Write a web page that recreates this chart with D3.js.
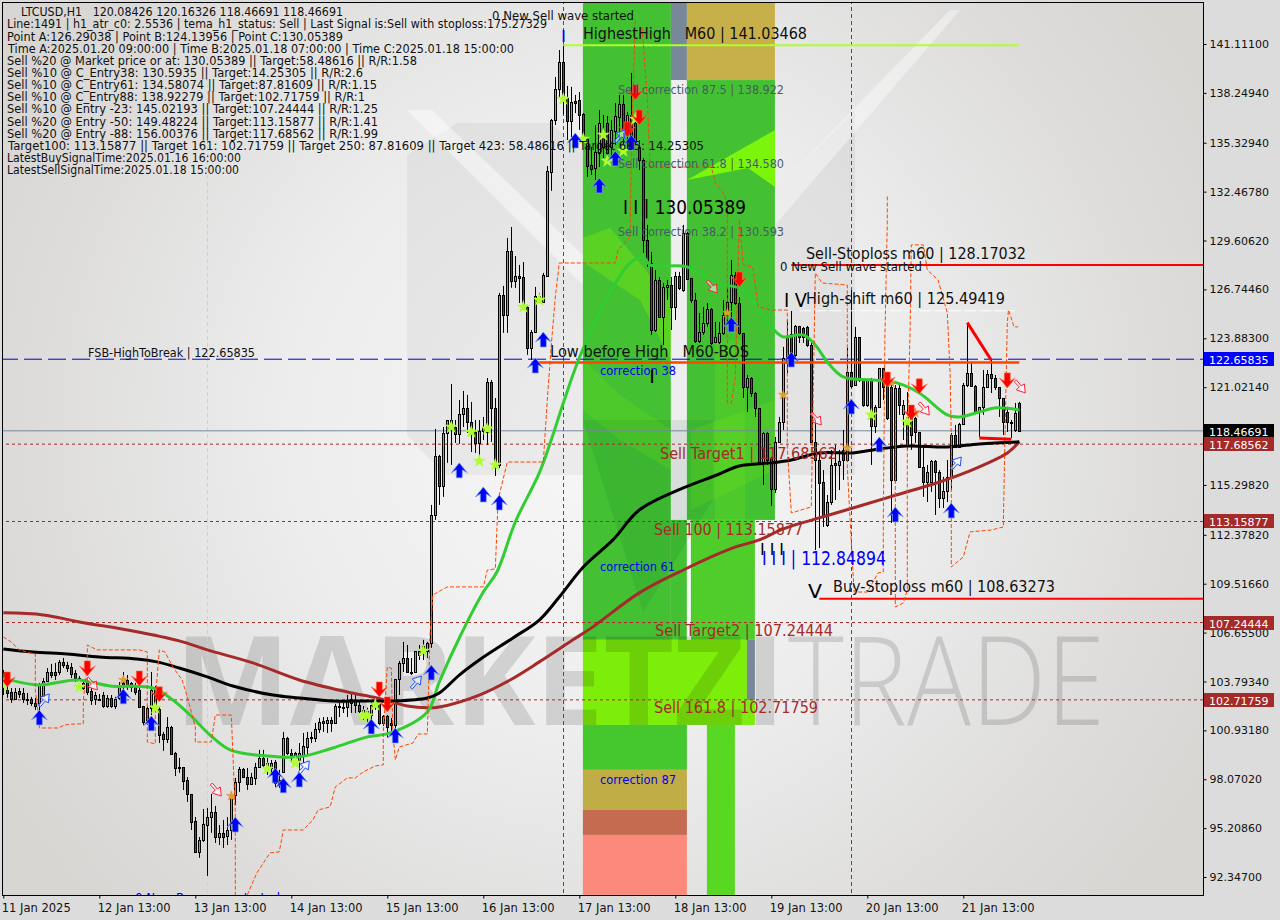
<!DOCTYPE html>
<html><head><meta charset="utf-8">
<script src="https://cdn.jsdelivr.net/npm/d3@7"></script>
<style>html,body{margin:0;padding:0;background:#dcdcdc;overflow:hidden}svg{display:block}text{font-family:"DejaVu Sans",sans-serif;white-space:pre}</style>
</head><body><svg id="c" width="1280" height="920"></svg>
<script>
// candles: [open, high, low, close] per hourly bar, split by axis interval
const barsA=[[104.35,104.47,103.0,103.59],[103.30,103.65,102.83,103.12],[103.18,103.41,102.54,102.77],[102.77,103.41,102.71,103.18],[103.24,103.41,102.83,103.06],[103.12,103.41,102.54,102.77],[102.77,103.12,102.42,102.71],[102.77,102.89,102.36,102.54],[102.54,102.83,102.13,102.36],[102.54,103.71,101.54,103.59],[102.95,103.99,102.89,103.82],[103.82,104.58,103.76,104.35],[104.35,104.82,103.99,104.17],[104.35,104.88,103.88,104.17],[104.35,105.05,104.17,104.94],[104.94,105.17,104.58,104.76],[104.76,104.94,104.35,104.58],[104.64,104.88,103.99,104.23],[104.29,104.47,103.76,103.99],[103.99,104.11,103.41,103.88],[103.41,103.88,103.30,103.71],[103.76,103.99,103.0,103.18],[103.24,103.41,102.42,102.71],[102.77,103.18,102.42,103.0]];
const barsB=[[102.77,103.06,102.71,102.71],[103.0,103.18,102.25,102.36],[102.36,103.0,102.25,102.83],[102.83,103.0,102.25,102.36],[102.36,102.89,102.19,102.77],[102.83,103.76,102.71,103.59],[103.71,104.35,103.30,103.47],[103.88,104.17,103.30,103.59],[103.71,103.76,103.18,103.47],[103.47,103.71,103.0,103.18],[103.30,103.76,102.25,102.30],[102.36,102.36,101.25,101.42],[101.54,102.36,101.25,102.25],[102.25,104.35,101.83,103.30],[103.41,103.53,102.13,102.30],[102.19,102.30,100.19,100.66],[100.72,100.84,99.73,100.43],[100.43,101.71,100.19,101.13],[101.13,101.19,99.49,99.55],[99.61,99.67,98.26,98.73],[98.79,99.32,98.44,98.73],[98.79,98.79,97.44,97.97],[98.03,98.2,96.74,97.21],[97.21,97.21,95.1,95.57]];
const barsC=[[95.63,95.86,93.76,93.82],[93.82,94.69,93.47,94.52],[94.52,96.33,94.4,95.45],[95.39,96.39,92.41,95.86],[95.86,97.21,94.93,96.16],[96.16,96.51,94.34,94.69],[94.69,95.39,94.22,94.93],[94.93,95.69,94.05,94.69],[94.75,95.86,94.22,95.1],[95.1,97.27,94.52,97.15],[97.15,98.15,96.56,97.91],[97.91,98.79,97.33,98.67],[98.67,98.73,98.15,98.2],[98.2,98.73,97.44,97.79],[97.79,98.44,97.74,98.2],[98.15,99.03,97.74,98.79],[98.79,99.79,98.73,99.32],[99.32,99.79,98.79,98.91],[98.62,99.32,98.32,99.03],[98.73,99.2,98.32,99.03],[99.08,99.2,97.62,97.85],[98.03,98.62,97.56,97.74],[98.5,100.84,98.44,100.49],[100.49,100.55,99.49,99.61]];
const barsD=[[99.61,99.84,99.03,99.49],[99.61,99.67,99.03,99.38],[99.2,100.19,98.62,99.61],[99.49,100.78,99.03,100.02],[99.96,100.84,99.49,100.49],[100.49,100.84,100.19,100.55],[100.49,101.37,100.25,101.02],[101.02,101.66,100.78,101.42],[101.48,101.71,100.84,101.37],[101.37,101.71,100.78,101.54],[101.54,101.71,100.84,101.37],[101.37,102.48,101.37,102.36],[102.36,102.54,101.71,102.3],[102.3,102.54,101.95,102.25],[102.3,103.0,101.71,102.71],[102.77,103.12,101.95,102.54],[102.71,103.0,101.95,102.42],[102.42,102.71,101.95,102.07],[102.13,102.36,101.54,101.83],[101.83,102.25,101.42,102.07],[101.83,102.6,101.37,102.42],[102.36,102.71,102.13,102.54],[102.48,102.6,101.25,101.37],[101.37,101.83,101.19,101.78]];
const barsE=[[101.78,101.83,100.49,101.13],[101.37,101.66,100.66,101.25],[101.25,103.94,100.25,103.94],[103.94,105.0,103.0,104.88],[104.88,106.11,104.35,105.17],[105.17,105.93,104.29,104.35],[104.35,105.17,104.17,104.29],[104.35,105.58,104.29,105.58],[105.34,105.93,105.05,105.58],[105.58,106.23,105.05,105.87],[105.58,106.11,105.17,106.05],[106.05,114.13,105.76,113.54],[113.54,118.58,113.25,117.0],[117.0,117.06,114.13,115.24],[115.24,118.69,114.6,118.34],[118.34,119.1,116.59,119.1],[119.1,121.21,116.47,118.69],[118.69,119.1,117.76,118.28],[118.28,120.27,117.7,119.45],[119.45,120.8,118.69,119.81],[119.81,120.57,118.34,118.99],[118.99,120.16,117.23,118.4],[118.4,119.1,117.17,117.76],[117.76,119.1,116.59,118.46]];
const barsF=[[118.46,119.28,117.93,118.69],[118.4,121.56,117.64,121.33],[121.33,121.44,117.82,119.81],[119.81,120.39,115.82,116.35],[116.47,126.54,116.29,126.42],[126.42,126.95,124.2,125.25],[125.25,129.76,124.2,128.99],[128.99,130.4,126.84,127.24],[127.24,128.7,126.83,127.53],[127.53,128.18,125.95,127.42],[127.47,128.35,125.54,125.84],[125.72,125.84,122.91,123.32],[123.32,124.37,122.62,124.25],[124.25,126.89,124.2,126.36],[126.36,126.54,125.95,126.01],[126.01,127.71,125.95,127.59],[127.53,133.97,127.53,133.68],[133.62,136.72,132.51,136.66],[136.66,139.18,136.37,138.48],[138.48,140.76,138.01,140.06],[140.06,141.06,137.0,137.89],[137.95,138.66,135.49,136.6],[136.6,138.6,135.67,137.72],[137.78,138.13,137.07,137.66]];
const barsG=[[137.84,138.3,136.08,136.96],[137.02,137.07,135.49,135.67],[135.55,135.67,133.33,133.97],[134.03,135.09,133.45,133.8],[133.86,136.37,133.15,134.79],[134.73,137.25,133.91,136.49],[135.79,136.96,134.44,135.09],[136.49,136.9,134.5,134.73],[135.09,136.66,134.32,136.08],[136.02,137.66,135.2,136.9],[136.84,138.13,135.49,137.6],[137.6,138.13,134.91,136.08],[135.79,137.13,134.91,136.96],[136.96,139.42,134.91,135.49],[136.49,136.96,135.2,135.49],[135.09,135.49,133.74,134.32],[134.32,134.44,128.88,129.64],[129.64,130.52,128.06,128.35],[128.29,128.94,124.08,124.37],[124.37,127.88,124.25,127.3],[127.3,127.47,125.07,125.13],[125.13,127.12,123.49,126.89],[126.89,127.3,126.13,127.01],[127.01,127.47,124.37,125.72]];
const barsH=[[125.72,127.77,124.96,127.53],[127.53,127.77,126.71,126.83],[126.71,130.52,126.6,130.05],[130.05,130.11,127.3,127.36],[127.42,127.42,125.95,126.13],[126.13,126.54,123.61,123.73],[123.73,125.37,123.61,124.25],[124.25,125.72,124.08,124.78],[124.78,125.95,124.55,125.6],[125.6,125.66,123.49,123.61],[123.67,124.84,123.61,123.96],[123.67,124.84,123.55,124.2],[124.2,126.13,124.08,125.25],[125.25,126.83,124.66,126.01],[126.01,128.47,124.66,127.59],[127.59,127.77,125.84,125.95],[125.95,126.3,124.08,124.2],[124.2,124.2,120.39,121.03],[121.03,121.74,119.57,121.56],[121.56,121.62,120.45,120.68],[120.68,120.74,119.28,119.81],[119.81,119.81,116.59,116.65],[116.65,118.4,115.3,118.34],[118.34,118.4,116.47,116.76]];
const barsI=[[116.88,116.94,114.07,115.06],[115.06,118.11,114.83,117.82],[117.82,119.28,117.76,118.99],[118.99,123.38,118.52,122.73],[122.44,124.96,121.85,123.96],[124.14,125.48,122.32,122.5],[122.91,124.66,122.79,124.61],[124.61,124.61,123.61,123.96],[124.49,124.55,123.61,123.96],[124.55,124.61,123.38,123.49],[123.49,123.61,117.82,117.82],[117.82,119.1,111.49,116.76],[116.76,117.23,111.61,115.42],[115.48,116.17,112.84,113.42],[112.96,114.71,112.84,114.3],[114.3,117.35,114.13,116.47],[116.59,117.64,114.42,116.47],[116.47,117.35,115.0,116.7],[117.35,118.52,115.59,116.76],[116.76,123.32,116.65,121.91],[121.91,126.71,120.98,121.09],[121.15,124.55,121.09,123.96],[123.96,123.96,121.33,121.44],[121.44,121.44,119.87,119.98]];
const barsJ=[[119.98,121.44,119.87,121.44],[121.44,121.56,116.47,118.75],[118.75,119.98,118.34,119.87],[119.87,122.15,119.81,122.15],[122.15,122.15,120.27,121.03],[121.15,121.62,119.1,119.22],[121.03,121.44,113.07,115.59],[115.59,121.15,115.47,120.98],[120.98,121.15,119.4,119.98],[119.45,120.27,117.93,119.98],[119.28,120.74,117.35,117.64],[119.4,119.81,117.35,118.22],[119.22,119.28,117.76,118.4],[118.4,118.4,116.29,116.35],[116.35,117.64,114.6,115.47],[115.47,116.47,114.3,116.06],[115.47,116.76,114.89,116.7],[116.7,116.76,113.54,116.06],[116.06,116.17,113.95,114.54],[114.54,115.77,113.95,114.95],[114.95,116.76,114.3,115.77],[115.77,118.34,115.0,118.22],[118.22,118.81,117.47,117.52],[117.52,118.93,117.47,118.87]];
const barsK=[[118.87,121.27,118.81,121.15],[121.15,124.78,121.03,121.85],[121.85,122.44,121.03,121.09],[121.09,121.15,119.51,119.57],[119.57,119.87,118.11,119.87],[119.87,122.03,119.4,121.03],[121.03,122.03,120.98,121.79],[121.79,122.62,120.68,121.56],[121.56,121.74,120.86,121.03],[121.03,121.03,119.28,120.39],[120.39,120.39,118.22,118.99],[119.57,119.87,118.4,118.99],[118.99,119.1,118.05,118.93],[118.52,120.1,118.4,119.51],[120.08,120.16,118.47,118.47]];

// moving averages: [bar, price]
const maBlack=[[0,105.7],[7.4,105.52],[16,105.4],[24,105.23],[33.4,105.11],[38.4,104.94],[44,104.58],[51,104.06],[57.4,103.53],[67.4,103.0],[74,102.83],[82.4,102.65],[91,102.65],[97.4,102.65],[106,102.83],[109,103.12],[114,104.17],[119,105.05],[127.4,106.34],[134,107.39],[139,108.74],[145,110.5],[152.4,112.08],[159,113.83],[170,115.12],[178.4,115.88],[184,116.41],[192,116.59],[197,116.76],[204,117.17],[212.4,117.17],[217.4,117.35],[226,117.58],[236,117.52],[244,117.7],[254,117.82]];
const maBrown=[[0,107.81],[10,107.69],[19,107.28],[32.4,106.75],[44,106.17],[51,105.64],[62.4,104.88],[74,103.88],[86,103.18],[93.4,102.83],[101,102.36],[106,102.25],[109,102.3],[119,103.0],[126.7,103.88],[134,104.94],[142.4,106.23],[147.4,106.99],[159,108.98],[170,110.32],[182.4,111.61],[189,112.08],[195,112.73],[204,113.37],[212.4,113.95],[221.7,114.6],[234,115.47],[241,116.06],[251,117.17],[254,117.82]];
const maGreen=[[0,103.99],[8.7,103.59],[18.4,103.88],[26.7,103.53],[37.4,103.41],[42.4,102.71],[46.7,101.83],[51.7,100.66],[56.7,99.79],[66,99.43],[74,99.38],[82.4,99.9],[91,100.55],[96.7,100.78],[106,102.01],[109,103.77],[114,106.34],[120,109.03],[123.4,110.2],[128,113.13],[134,116.0],[137.4,118.22],[140,120.1],[144,122.73],[151,126.3],[156.7,128.29],[160,128.64],[161.7,128.18],[171,128.06],[178.4,127.12],[185,126.71],[190,125.13],[193.4,124.2],[195,123.96],[200,124.08],[203,123.49],[206,122.5],[210,121.62],[217.4,121.44],[223.4,121.27],[229,120.68],[236,119.4],[239,119.28],[244,119.57],[248.4,119.81],[254,119.69]];

// stepped dashed bands: [bar, price]
const bandA=[[0,106.4],[2,106.1],[4,105.64],[6.7,105.46],[8,105.4],[8,103.3],[9,101.42],[9,101.07],[13.7,101.07],[15.4,101.25],[18,101.31],[20,101.31],[20,102.71],[21,104.7],[21,105.93],[23.4,105.64],[34,105.64],[36,105.52],[36,100.25],[38,100.14],[38,102.71],[39,105.64],[40.4,105.52],[42.4,104.64],[44.7,103.88],[46,102.89],[48,101.13],[48,100.25],[52,100.25],[53,101.83],[57,101.83],[58,96.1],[58,91.0]];
const bandB=[[61,91.3],[63.4,92.59],[64.7,93.05],[66.7,93.76],[69,93.82],[70,95.1],[75,95.1],[77.4,95.69],[78.7,96.27],[81.7,96.45],[83,97.62],[86,98.15],[88,98.15],[90,98.5],[93,98.85],[95,98.91],[95,100.78],[96,104.64],[97,104.58],[97.4,100.78],[98,99.2],[99,99.96],[102.4,100.19],[103.7,100.72],[106,100.72],[106.7,106.63],[107.4,108.86],[111,109.33],[120,109.33],[121,110.32],[123,110.38],[123.7,114.42],[126,116.64],[135,116.64],[136,120.27],[137,123.49],[138,126.3],[139,128.29],[153,128.29],[153.7,129.05],[156.7,129.82],[157,134.73],[158,142.5]];
const bandC=[[159.7,142.1],[161,137.95],[161.7,133.91],[166.7,133.91],[177,133.91],[178,132.98],[180.4,132.27],[181,131.22],[181,120.1],[182,120.1],[183,121.62],[184,130.81],[185,128.18],[187.4,128.06],[188.7,125.72],[192,125.54],[196,125.54],[196,117.52],[197,113.66],[202,114.01],[203,127.71],[204.7,127.12],[211,127.0],[211,116.35],[211.7,113.25],[212.7,109.03],[216,109.03],[218.7,110.15],[220,110.2],[220,113.07],[220.4,123.96],[221,130.64],[221,132.27]];
const bandD=[[223,119.1],[223,108.16],[225,108.39],[226,109.16],[226,117.93],[226.7,124.37],[227,129.35],[230,129.35],[231,127.88],[233.7,127.3],[236,125.37],[236.7,121.85],[237,117.93],[237,110.5],[240,111.08],[241.7,112.55],[247,112.66],[250,112.84],[250.4,117.93],[251,124.78],[251.3,125.54],[252.7,124.55],[253.7,124.55]];

// signal markers: [bar, price]
const blueArrows=[[9,102.13],[30,103.36],[37,101.78],[58,95.86],[68,98.73],[70,98.15],[74,98.5],[92,101.6],[98,101.07],[107,104.76],[114,116.59],[120,115.18],[124,114.71],[133,122.73],[135,124.25],[143,135.9],[149,133.27],[153,134.85],[157,135.79],[182,125.13],[197,123.08],[212,120.33],[219,118.11],[223,114.01],[237,114.24]];
const redArrows=[[1,103.47],[21,104.12],[34,103.53],[39,102.6],[94,102.89],[96,102.01],[158,137.84],[159,136.37],[156,135.67],[184,126.89],[221,121.03],[229,120.63],[227,119.1],[251,120.98]];
const limeStars=[[0,103.59],[19,103.47],[38,102.25],[66,98.67],[73,99.03],[90,101.78],[91,101.78],[93,102.42],[105,105.58],[112,118.69],[117,118.4],[119,116.7],[121,118.58],[123,116.47],[130,125.72],[134,126.13],[140,137.89],[145,135.55],[150,135.79],[151,134.26],[155,134.85],[158,136.72],[217,119.4],[226,118.99]];
const goldStars=[[30,103.88],[57,97.09],[181,125.37],[195,120.57],[211,117.46],[222,121.27],[228,119.51]];
const hollowBlue=[[10,102.77],[75,98.85],[103,103.82],[154,135.79],[238,116.64]];
const hollowRed=[[22,103.59],[53,97.38],[177,126.83],[203,119.1],[230,119.69],[254,120.98]];

// price levels
const levelTargets=[117.68562,113.15877,107.24444,102.71759];
const levelFsb=122.65835, levelLast=118.46691;
const segHighest=[140,254,141.03468], segSellStop=[197,300,128.17032], segBuyStop=[204,300,108.63273], segHighShift=[199,253,125.49419], segLowHigh=[132,254,122.46];
const redSlashA=[[241,124.8],[247,122.6]], redSlashB=[[244,118.05],[252,117.98]];
const vBars={cyan:51,magenta:[140,212]};

// shaded zones: [bar0, bar1, priceTop, priceBottom, colour]
const zones=[[144.9,166.9,143.69,106.23,"#43c133"],[166.9,170.9,143.69,139.0,"#778899"],[166.9,170.9,139.0,113.25,"#eeeeee"],[166.9,170.9,113.25,106.23,"#43c133"],[170.9,192.9,143.69,139.0,"#c7b04a"],[170.9,192.9,139.0,113.25,"#43c133"],[170.9,171.9,113.25,106.23,"#f7f7f7"],[171.9,187.9,113.25,106.23,"#4fce2b"],[144.9,185.9,106.23,101.25,"#7ded0a"],[185.9,187.9,106.23,102.71,"#778899"],[185.9,187.9,102.71,101.25,"#7ded0a"],[144.9,170.9,101.25,98.62,"#45c82e"],[144.9,170.9,98.62,96.27,"#c0ad45"],[144.9,170.9,96.27,94.81,"#c46b50"],[144.9,170.9,94.81,91.3,"#fb8a7c"],[175.9,182.9,101.25,91.3,"#58d822"]];

// axis labels
const priceTicks=[141.111,138.2494,135.3294,132.4678,129.6062,126.7446,123.883,121.0214,118.1598,115.2982,112.3782,109.5166,106.655,103.7934,100.9318,98.0702,95.2086,92.347];
const hiddenPriceLabel=118.1598;
const timeTicks=[0,24,48,72,96,120,144,168,192,216,240];
const timeLabels=["11 Jan 2025","12 Jan 13:00","13 Jan 13:00","14 Jan 13:00","15 Jan 13:00","16 Jan 13:00","17 Jan 13:00","18 Jan 13:00","19 Jan 13:00","20 Jan 13:00","21 Jan 13:00"];
const priceBoxes=[[122.65835,"#0000ff"],[118.46691,"#000000"],[117.68562,"#a52a2a"],[113.15877,"#a52a2a"],[107.24444,"#a52a2a"],[102.71759,"#a52a2a"]];

const headerLines=[
["LTCUSD,H1   120.08426 120.16326 118.46691 118.46691",21,343],
["Line:1491 | h1_atr_c0: 2.5536 | tema_h1_status: Sell | Last Signal is:Sell with stoploss:175.27329",7,547],
["Point A:126.29038 | Point B:124.13956 | Point C:130.05389",7,343],
["Time A:2025.01.20 09:00:00 | Time B:2025.01.18 07:00:00 | Time C:2025.01.18 15:00:00",8,514],
["Sell %20 @ Market price or at: 130.05389 || Target:58.48616 || R/R:1.58",7,417],
["Sell %10 @ C_Entry38: 130.5935 || Target:14.25305 || R/R:2.6",7,363],
["Sell %10 @ C_Entry61: 134.58074 || Target:87.81609 || R/R:1.15",7,377],
["Sell %10 @ C_Entry88: 138.92279 || Target:102.71759 || R/R:1",7,365],
["Sell %10 @ Entry -23: 145.02193 || Target:107.24444 || R/R:1.25",7,378],
["Sell %20 @ Entry -50: 149.48224 || Target:113.15877 || R/R:1.41",7,378],
["Sell %20 @ Entry -88: 156.00376 || Target:117.68562 || R/R:1.99",7,378],
["Target100: 113.15877 || Target 161: 102.71759 || Target 250: 87.81609 || Target 423: 58.48616 || Target 685: 14.25305",8,704],
["LatestBuySignalTime:2025.01.16 16:00:00",7,241],
["LatestSellSignalTime:2025.01.18 15:00:00",7,239]];
// chart annotations: text, x0, x1, baseline, size, colour
const annotations=[
["0 New Sell wave started",492,634,20,12,"#111"],
["I",561,566,42,16,"#0000ee"],
["HighestHigh   M60 | 141.03468",583,807,39,16,"#111"],
["Sell correction 87.5 | 138.922",618,784,94,12,"#4a5a68"],
["Sell correction 61.8 | 134.580",618,784,168,12,"#4a5a68"],
["Sell correction 38.2 | 130.593",618,784,236,12,"#4a5a68"],
["I I | 130.05389",623,746,214,20,"#000"],
["Sell-Stoploss m60 | 128.17032",806,1026,259,16,"#111"],
["0 New Sell wave started",780,922,271,12,"#111"],
["I V",784,807,307,20,"#000"],
["High-shift m60 | 125.49419",806,1005,304,16,"#111"],
["FSB-HighToBreak | 122.65835",88,255,357,12,"#111"],
["Low before High   M60-BOS",550,749,357,16,"#111"],
["correction 38",600,676,375,12,"#0000ee"],
["I",649,655,383,18,"#000"],
["Sell Target1 | 117.68562",660,837,459,15,"#a52a2a"],
["Sell 100 | 113.15877",654,803,535,15,"#a52a2a"],
["I I I",760,784,555,16,"#000"],
["I I I | 112.84894",762,886,565,20,"#0000ee"],
["correction 61",600,675,571,12,"#0000ee"],
["V",808,822,598,20,"#000"],
["Buy-Stoploss m60 | 108.63273",833,1055,592,16,"#111"],
["Sell Target2 | 107.24444",655,833,636,15,"#a52a2a"],
["Sell 161.8 | 102.71759",654,818,713,15,"#a52a2a"],
["correction 87",600,676,784,12,"#0000ee"],
["0 New Buy wave started",135,280,902,12,"#0000ee"]];

const candles=[...barsA,...barsB,...barsC,...barsD,...barsE,...barsF,...barsG,...barsH,...barsI,...barsJ,...barsK];
const W=1280,H=920,PR=1203,PB=895;
const svg=d3.select("#c");
const x=d3.scaleLinear().domain([0,254]).range([3.3,1019.3]);
const y=d3.scaleLinear().domain([141.111,92.347]).range([44,877]);

const defs=svg.append("defs");
const rg=defs.append("radialGradient").attr("id","bg").attr("gradientUnits","userSpaceOnUse").attr("cx",600).attr("cy",430).attr("r",690);
[[0,"#f7f7f7"],[.45,"#ededed"],[.8,"#dedddc"],[1,"#d7d6d3"]].forEach(s=>rg.append("stop").attr("offset",s[0]).attr("stop-color",s[1]));
defs.append("clipPath").attr("id","plot").append("rect").attr("x",3).attr("y",3).attr("width",PR-3).attr("height",PB-3);

svg.append("rect").attr("width",W).attr("height",H).attr("fill","#dcdcdc");
const plot=svg.append("g").attr("clip-path","url(#plot)");
plot.append("rect").attr("x",0).attr("y",0).attr("width",PR).attr("height",PB).attr("fill","url(#bg)");

// faint logo shapes behind the price bars
const poly=(pts,fill)=>plot.append("polygon").attr("points",pts.map(p=>p.join(",")).join(" ")).attr("fill",fill);
poly([[407,155],[457,123],[550,123],[583,150],[583,475],[445,475],[407,435]],"rgba(0,0,0,.045)");
poly([[775,190],[855,110],[855,475],[775,475]],"rgba(0,0,0,.05)");
poly([[407,110],[432,110],[590,262],[590,292]],"rgba(255,255,255,.45)");
poly([[950,10],[960,10],[775,225],[775,190]],"rgba(255,255,255,.4)");

// zones
plot.append("g").selectAll("rect").data(zones).join("rect")
 .attr("x",d=>x(d[0])).attr("width",d=>x(d[1])-x(d[0]))
 .attr("y",d=>y(d[2])).attr("height",d=>y(d[3])-y(d[2])).attr("fill",d=>d[4]);
// shading inside the zones
poly([[687,180],[775,130],[775,187],[748,168]],"#7cf50c");
poly([[583,420],[643,612],[713,500],[713,420]],"rgba(0,80,20,.09)");
poly([[583,262],[640,300],[671,360],[671,300],[610,228],[583,238]],"rgba(150,255,0,.28)");
poly([[715,340],[745,340],[745,520],[715,520]],"rgba(150,255,0,.13)");
poly([[583,360],[620,395],[671,430],[671,470],[620,440],[583,410]],"rgba(150,255,0,.13)");
poly([[691,430],[775,400],[775,470],[691,510]],"rgba(150,255,0,.13)");

// watermark
plot.append("text").attr("x",175).attr("y",725).attr("textLength",610).attr("lengthAdjust","spacingAndGlyphs")
 .style("font-family","'Open Sans',sans-serif").style("font-weight",700).style("font-size","124px").attr("fill","rgba(0,0,0,.125)").text("MARKETZI");
plot.append("text").attr("x",788).attr("y",725).attr("textLength",317).attr("lengthAdjust","spacingAndGlyphs")
 .style("font-family","'Open Sans',sans-serif").style("font-weight",300).style("font-size","124px").attr("fill","rgba(0,0,0,.135)").text("TRADE");

// verticals
const vl=(bar,c)=>plot.append("line").attr("x1",Math.round(x(bar))+.5).attr("x2",Math.round(x(bar))+.5).attr("y1",0).attr("y2",PB).attr("stroke",c).attr("stroke-dasharray","4,3");
vl(vBars.cyan,"#a9dfe6");vl(vBars.magenta[0],"#a61e7c");vl(vBars.magenta[1],"#a61e7c");

// horizontal levels
const hl=(p,c,dash,w,x0,x1)=>plot.append("line").attr("x1",x0).attr("x2",x1).attr("y1",y(p)).attr("y2",y(p)).attr("stroke",c).attr("stroke-width",w||1).attr("stroke-dasharray",dash||null);
levelTargets.forEach(p=>hl(p,"#a52a2a","3,3",1,0,PR));
hl(levelLast,"#778899",null,1,0,PR);
hl(levelFsb,"#0000cc","18,6",1,0,PR);

// candles
const px=i=>Math.round(x(i));
const gC=plot.append("g");
gC.selectAll("line").data(candles).join("line")
 .attr("x1",(d,i)=>px(i)+.5).attr("x2",(d,i)=>px(i)+.5)
 .attr("y1",d=>y(d[1])).attr("y2",d=>y(d[2])).attr("stroke","#000");
gC.selectAll("rect").data(candles).join("rect")
 .attr("x",(d,i)=>px(i)-.5).attr("width",2)
 .attr("y",d=>Math.round(y(Math.max(d[0],d[3])))+.5)
 .attr("height",d=>Math.max(1,Math.round(Math.abs(y(d[0])-y(d[3])))))
 .attr("fill",d=>d[3]>=d[0]?"#26de81":"#cf1040").attr("stroke","#000").attr("shape-rendering","crispEdges");

// segments
const seg=(s,c,w,dash)=>plot.append("line").attr("x1",x(s[0])).attr("x2",x(s[1])).attr("y1",y(s[2])).attr("y2",y(s[2])).attr("stroke",c).attr("stroke-width",w).attr("stroke-dasharray",dash||null);
seg(segHighest,"#adff2f",2);seg(segSellStop,"#ff0000",2);seg(segBuyStop,"#ff0000",2);
seg(segHighShift,"#ffffff",1,"12,3");seg(segLowHigh,"#ff4500",2.5);

// moving averages
const ln=d3.line().x(d=>x(d[0])).y(d=>y(d[1]));
const lnC=d3.line().x(d=>x(d[0])).y(d=>y(d[1])).curve(d3.curveCatmullRom.alpha(.5));
[[maBrown,"#a52a2a"],[maGreen,"#32cd32"],[maBlack,"#000000"]].forEach(m=>plot.append("path").attr("d",lnC(m[0])).attr("fill","none").attr("stroke",m[1]).attr("stroke-width",3));
[bandA,bandB,bandC,bandD].forEach(b=>plot.append("path").attr("d",ln(b)).attr("fill","none").attr("stroke","#ff4500").attr("stroke-width",1).attr("stroke-dasharray","4,2"));
[redSlashA,redSlashB].forEach(b=>plot.append("path").attr("d",ln(b)).attr("fill","none").attr("stroke","#ff0000").attr("stroke-width",3));

// markers
const at=d=>`translate(${x(d[0])},${y(d[1])})`;
plot.append("g").selectAll("path").data(goldStars).join("path").attr("transform",at).attr("d",d3.symbol(d3.symbolStar,30)).attr("fill","#daa520").attr("stroke","#f08030").attr("stroke-width",.5);
plot.append("g").selectAll("path").data(limeStars).join("path").attr("transform",at).attr("d",d3.symbol(d3.symbolStar,60)).attr("fill","#adff2f");
plot.append("g").selectAll("path").data(blueArrows).join("path").attr("transform",at).attr("d","M0,0L8,10L3,7L3,15L-3,15L-3,7L-8,10Z").attr("fill","#0000ff").attr("stroke","#7fa8e0").attr("stroke-width",.7);
plot.append("g").selectAll("path").data(redArrows).join("path").attr("transform",at).attr("d","M0,0L8,-10L3,-7L3,-15L-3,-15L-3,-7L-8,-10Z").attr("fill","#ff0000").attr("stroke","#ff7040").attr("stroke-width",.6);
plot.append("g").selectAll("path").data(hollowBlue).join("path").attr("transform",at).attr("d","M-5,6L0,1L-3,-2L6,-5L5,4L2,2L-3,8Z").attr("fill","rgba(255,255,255,.5)").attr("stroke","#1e50ff");
plot.append("g").selectAll("path").data(hollowRed).join("path").attr("transform",at).attr("d","M-5,-6L0,-1L-3,2L6,5L5,-4L2,-2L-3,-8Z").attr("fill","rgba(255,255,255,.5)").attr("stroke","#ff2040");

// annotations
const txt=(g,a)=>g.append("text").attr("x",a[1]).attr("y",a[3]).attr("textLength",a[2]-a[1]).attr("lengthAdjust","spacingAndGlyphs").style("font-size",a[4]+"px").attr("fill",a[5]).text(a[0]);
annotations.forEach(a=>txt(plot,a));
headerLines.forEach((l,i)=>txt(plot,[l[0],l[1],l[2],16.2+i*12.15,11.5,"#111"]));

// frame
svg.append("rect").attr("x",2.5).attr("y",2.5).attr("width",PR-2).attr("height",PB-2).attr("fill","none").attr("stroke","#000");

// axes
const axY=svg.append("g").attr("transform",`translate(${PR+.5},0)`).call(d3.axisRight(y).tickValues(priceTicks).tickSize(3).tickPadding(3).tickFormat(d=>d===hiddenPriceLabel?"":d3.format(".5f")(d)));
axY.select(".domain").remove();
axY.selectAll("text").style("font-size","11px").attr("fill","#111");
const axX=svg.append("g").attr("transform",`translate(0,${PB+.5})`).call(d3.axisBottom(x).tickValues(timeTicks).tickSize(3).tickPadding(5).tickFormat((d,i)=>timeLabels[i]));
axX.select(".domain").remove();
axX.selectAll("text").attr("text-anchor","start").attr("dx",-2).style("font-size","11.5px").attr("fill","#111");

// price boxes
const bx=svg.append("g").selectAll("g").data(priceBoxes).join("g").attr("transform",d=>`translate(1204,${Math.round(y(d[0]))})`);
bx.append("rect").attr("x",0).attr("y",-7).attr("width",70).attr("height",14).attr("fill",d=>d[1]);
bx.append("text").attr("x",5).attr("y",4.5).attr("fill","#fff").style("font-size","11px").text(d=>d3.format(".5f")(d[0]));
</script></body></html>
